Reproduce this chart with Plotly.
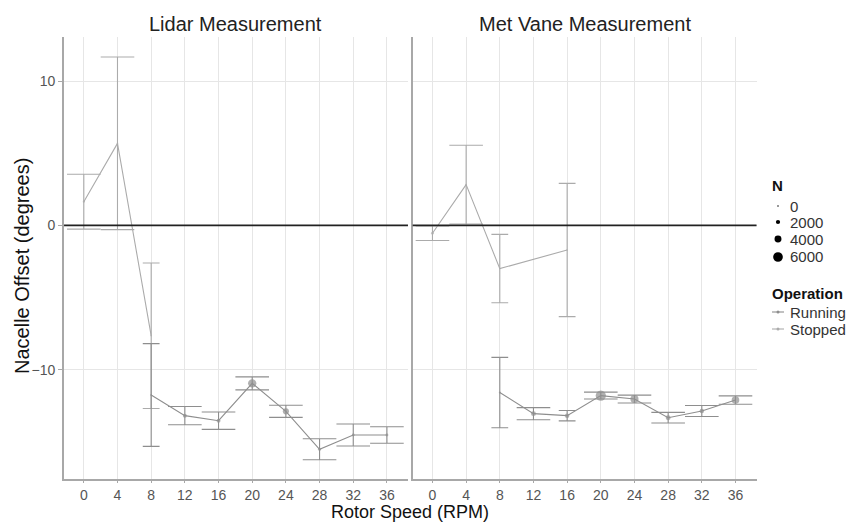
import numpy as np
import plotly.graph_objects as go

# ---- data -------------------------------------------------------------
rpm_lidar_running = [8, 12, 16, 20, 24, 28, 32, 36]
off_lidar_running = [-11.76, -13.19, -13.54, -10.95, -12.89, -15.52, -14.53, -14.53]
err_lidar_running = [3.56, 0.63, 0.60, 0.45, 0.42, 0.73, 0.76, 0.57]
n_lidar_running = [350, 1800, 1800, 5000, 3400, 1100, 1000, 1000]

rpm_lidar_stopped = [0, 4, 8]
off_lidar_stopped = [1.64, 5.68, -7.65]
err_lidar_stopped = [1.90, 5.98, 5.04]
n_lidar_stopped = [500, 30, 30]

rpm_vane_running = [8, 12, 16, 20, 24, 28, 32, 36]
off_vane_running = [-11.59, -13.05, -13.19, -11.80, -12.04, -13.33, -12.87, -12.11]
err_vane_running = [2.44, 0.42, 0.36, 0.24, 0.27, 0.37, 0.38, 0.29]
n_vane_running = [350, 2500, 2200, 6400, 4800, 2500, 2200, 4500]

rpm_vane_stopped = [0, 4, 8, 16]
off_vane_stopped = [-0.55, 2.82, -3.00, -1.71]
err_vane_stopped = [0.50, 2.73, 2.37, 4.62]
n_vane_stopped = [1000, 30, 30, 30]

panel_titles = ["Lidar Measurement", "Met Vane Measurement"]
rpm_ticks = [0, 4, 8, 12, 16, 20, 24, 28, 32, 36]
offset_ticks = [-10, 0, 10]
n_legend = [0, 2000, 4000, 6000]
operations = ["Running", "Stopped"]

# ---- styling ----------------------------------------------------------
FONT = "Liberation Sans, Arial, sans-serif"
COL = {"Running": "#8e8e8e", "Stopped": "#ababab"}
GRID = "#e6e6e6"
AXIS = "#a8a8a8"
W, H = 856, 522
XDOM = [[0.0748, 0.4766], [0.4821, 0.8838]]
YDOM = [0.0818, 0.9291]


def dot_size(n):
    """Point diameter in px for a sample count."""
    return 1.5 + 8.2 * np.asarray(n, dtype=float) / 6000.0


panels = [
    ("x", "y", {"Running": (rpm_lidar_running, off_lidar_running, err_lidar_running, n_lidar_running),
                "Stopped": (rpm_lidar_stopped, off_lidar_stopped, err_lidar_stopped, n_lidar_stopped)}),
    ("x2", "y2", {"Running": (rpm_vane_running, off_vane_running, err_vane_running, n_vane_running),
                  "Stopped": (rpm_vane_stopped, off_vane_stopped, err_vane_stopped, n_vane_stopped)}),
]

fig = go.Figure()

for xa, ya, groups in panels:
    # rpm values shared by both operation groups get half-width caps (dodged)
    shared = set(groups["Running"][0]) & set(groups["Stopped"][0])
    for op in ["Stopped", "Running"]:
        xs, ys, es, ns = groups[op]
        for narrow in (False, True):
            idx = [i for i, x in enumerate(xs) if (x in shared) == narrow]
            if not idx:
                continue
            fig.add_trace(go.Scatter(
                x=[xs[i] for i in idx], y=[ys[i] for i in idx],
                mode="markers", marker=dict(size=1, opacity=0),
                error_y=dict(type="data", array=[es[i] for i in idx], visible=True,
                             color=COL[op], thickness=1.1, width=8.4 if narrow else 16.8),
                xaxis=xa, yaxis=ya, showlegend=False, hoverinfo="skip"))
    for op in ["Stopped", "Running"]:
        xs, ys, es, ns = groups[op]
        fig.add_trace(go.Scatter(
            x=xs, y=ys, mode="lines+markers", name=op,
            line=dict(color=COL[op], width=1.1),
            marker=dict(size=dot_size(ns), color=COL[op], line=dict(width=0)),
            xaxis=xa, yaxis=ya, showlegend=False))

# zero reference line in each panel
for xa, ya, _ in panels:
    fig.add_shape(type="line", xref=f"{xa} domain", yref=ya, x0=0, x1=1, y0=0, y1=0,
                  line=dict(color="#222222", width=1.6))

xcommon = dict(range=[-2.35, 38.5], tickvals=rpm_ticks, showgrid=True, gridcolor=GRID,
               gridwidth=1, zeroline=False, showline=True, linecolor=AXIS, linewidth=2,
               ticks="outside", ticklen=2, tickcolor=AXIS,
               tickfont=dict(size=14, color="#555555", family=FONT))
ycommon = dict(range=[-17.6, 13.05], tickvals=offset_ticks, showgrid=True, gridcolor=GRID,
               gridwidth=1, zeroline=False, showline=True, linecolor=AXIS, linewidth=2,
               tickcolor=AXIS, tickfont=dict(size=14, color="#555555", family=FONT),
               domain=YDOM)

fig.update_layout(
    width=W, height=H, margin=dict(l=0, r=0, t=0, b=0),
    paper_bgcolor="white", plot_bgcolor="white",
    font=dict(family=FONT, color="#333333"),
    xaxis=dict(domain=XDOM[0], anchor="y", **xcommon),
    xaxis2=dict(domain=XDOM[1], anchor="y2", **xcommon),
    yaxis=dict(anchor="x", ticks="outside", ticklen=4, **ycommon),
    yaxis2=dict(anchor="x2", matches="y", showticklabels=False, ticks="", **ycommon),
    showlegend=False,
)


def label(text, x_px, y_px, size, color="#111111", angle=0, xanchor="center"):
    return dict(text=text, x=x_px / W, y=1 - y_px / H, xref="paper", yref="paper",
                xanchor=xanchor, yanchor="middle", showarrow=False, textangle=angle,
                font=dict(size=size, color=color, family=FONT))


annotations = [
    label(panel_titles[0], W * sum(XDOM[0]) / 2, 24, 20, "#222222"),
    label(panel_titles[1], W * sum(XDOM[1]) / 2, 24, 20, "#222222"),
    label("Rotor Speed (RPM)", W * (XDOM[0][0] + XDOM[1][1]) / 2, 511.5, 18),
    label("Nacelle Offset (degrees)", 22, 266, 20, angle=-90),
]

# ---- legend: point size (N) and operation ------------------------------
LEG_X, GLYPH_X, TEXT_X = 770, 778, 788
shapes = []
annotations.append(label("<b>N</b>", LEG_X, 185, 15, "#111111", xanchor="left"))
n_rows = [206, 222, 239, 257]
for n, yy in zip(n_legend, n_rows):
    r = float(dot_size(n)) / 2
    shapes.append(dict(type="circle", xref="paper", yref="paper",
                       x0=(GLYPH_X - r) / W, x1=(GLYPH_X + r) / W,
                       y0=1 - (yy + r) / H, y1=1 - (yy - r) / H,
                       fillcolor="black", line=dict(width=0)))
    annotations.append(label(str(n), TEXT_X, yy, 15, "#333333", xanchor="left"))

annotations.append(label("<b>Operation</b>", LEG_X, 293, 15, "#111111", xanchor="left"))
op_rows = [312, 329]
for op, yy in zip(operations, op_rows):
    shapes.append(dict(type="line", xref="paper", yref="paper",
                       x0=(GLYPH_X - 6) / W, x1=(GLYPH_X + 6) / W, y0=1 - yy / H, y1=1 - yy / H,
                       line=dict(color=COL[op], width=1.1)))
    shapes.append(dict(type="circle", xref="paper", yref="paper",
                       x0=(GLYPH_X - 1.5) / W, x1=(GLYPH_X + 1.5) / W,
                       y0=1 - (yy + 1.5) / H, y1=1 - (yy - 1.5) / H,
                       fillcolor=COL[op], line=dict(width=0)))
    annotations.append(label(op, TEXT_X, yy, 15, "#333333", xanchor="left"))

fig.update_layout(annotations=annotations)
for s in shapes:
    fig.add_shape(**s)

fig.write_html("out.html")
